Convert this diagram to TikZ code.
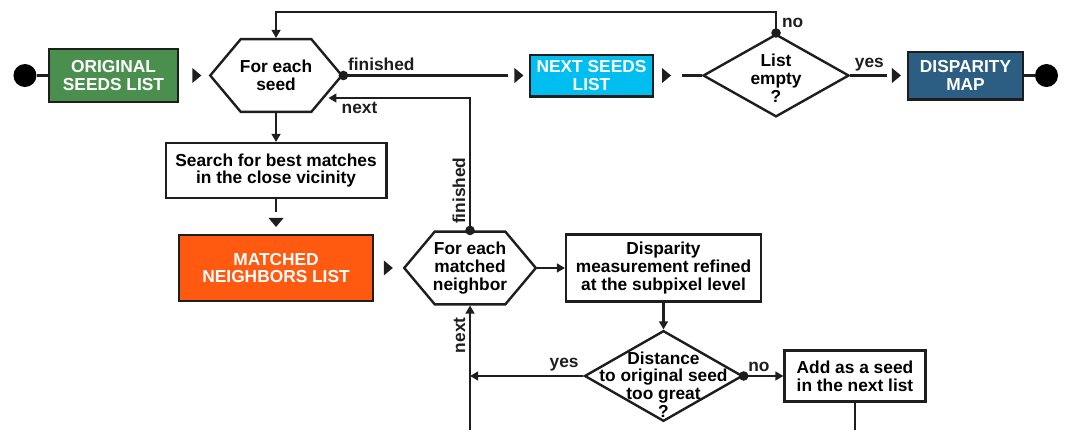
\documentclass[tikz,border=0pt]{standalone}
\usepackage{fontspec}
\setmainfont{Liberation Sans}
\definecolor{seedGreen}{HTML}{4A8F4E}
\definecolor{nextCyan}{HTML}{00BFF0}
\definecolor{mapBlue}{HTML}{2B5E82}
\definecolor{matchOrange}{HTML}{FF5A10}
\definecolor{edgeGray}{HTML}{1E1E1E}
\usetikzlibrary{positioning, arrows.meta, shapes.geometric, shapes.symbols, calc}
\tikzset{listtip/.pic={\fill[edgeGray] (-4.5,-7.5) -- (4.5,0) -- (-4.5,7.5) -- cycle;}}

\begin{document}
\begin{tikzpicture}[x=0.75pt, y=-0.75pt, on grid,
      font=\fontsize{13pt}{13.4pt}\selectfont\bfseries,
      box/.style={draw=edgeGray, line width=1.8pt, fill=white, align=center, inner sep=0pt},
      listbox/.style={box, text=white},
      hexa/.style={draw=edgeGray, line width=1.8pt, signal, signal to=east and west, signal pointer angle=100, inner sep=0pt},
      choice/.style={draw=edgeGray, line width=1.8pt, diamond, inner sep=0pt},
      terminal/.style={circle, fill=black, inner sep=0pt, minimum size=17.25pt},
      link/.style={line width=2pt, edgeGray},
      arr/.style={link, -{Triangle[length=6pt, width=6.5pt]}},
      tag/.style={inner sep=2.5pt}]
    \useasboundingbox (0,0) rectangle (1067,430);
    \coordinate (topy) at (0,12);
    \coordinate (nexty) at (0,98);
    \coordinate (boty) at (0,430);

    \node[listbox, fill=seedGreen, minimum width=96.5pt, minimum height=39.5pt] (orig) at (113.5,75.5) {ORIGINAL\\SEEDS LIST};
    \node[terminal, left=66.4pt of orig] (start) {};
    \node[hexa, minimum width=98.7pt, minimum height=54.5pt, right=121.9pt of orig,
          label={[align=center]center:{For each\\seed}}] (seed) {};
    \node[listbox, fill=nextCyan, minimum width=92pt, minimum height=31.2pt, right=236.6pt of seed] (next) {NEXT SEEDS\\LIST};
    \node[choice, minimum width=109.5pt, minimum height=62pt, right=138.4pt of next,
          label={[align=center, yshift=-2pt]center:{List\\empty\\?}}] (empty) {};
    \node[listbox, fill=mapBlue, minimum width=86pt, minimum height=35.7pt, right=142.1pt of empty] (map) {DISPARITY\\MAP};
    \node[terminal, right=60.75pt of map] (end) {};

    \node[box, minimum width=165.5pt, minimum height=41pt, below=71.25pt of seed] (search) {Search for best matches\\in the close vicinity};
    \node[listbox, fill=matchOrange, minimum width=145.2pt, minimum height=49.2pt, below=73.1pt of search] (matched) {MATCHED\\NEIGHBORS LIST};
    \node[hexa, minimum width=98.7pt, minimum height=54.5pt, right=145.5pt of matched,
          label={[align=center]center:{For each\\matched\\neighbor}}] (hexmatch) {};
    \node[box, minimum width=146pt, minimum height=50pt, right=145.1pt of hexmatch] (refine) {Disparity\\measurement refined\\at the subpixel level};
    \node[choice, minimum width=118.5pt, minimum height=68pt, below=81pt of refine,
          label={[align=center, yshift=-6.5pt]center:{Distance\\to original seed\\too great\\?}}] (dist) {};
    \node[box, minimum width=105.5pt, minimum height=38pt, right=143.6pt of dist] (add) {Add as a seed\\in the next list};

    \draw[link] (start) -- (orig);
    \draw[link] (map) -- (end);
    \pic at ($(orig.east)!0.6!(seed.west)$) {listtip};
    \draw[link] (seed.east) -- node[pos=0, above right, tag] {finished} ($(next.west)+(-21,0)$);
    \pic at ($(next.west)+(-10,0)$) {listtip};
    \pic at ($(next.east)+(12.5,0)$) {listtip};
    \draw[link] ($(next.east)+(28,0)$) -- (empty.west);
    \draw[link] (empty.east) -- node[pos=0, above right, tag] {yes} ($(map.west)+(-20,0)$);
    \pic at ($(map.west)+(-10.5,0)$) {listtip};
    \draw[arr] (empty.north) -- (empty.north |- topy) node[below right, inner sep=3.5pt] {no} -| (seed.north);

    \draw[arr] (seed.south) -- (search.north);
    \draw[link] (search.south) -- ($(search.south)+(0,13)$);
    \pic[rotate=-90] at ($(matched.north)+(0,-11.5)$) {listtip};
    \pic at ($(matched.east)!0.5!(hexmatch.west)$) {listtip};
    \draw[arr] (hexmatch.east) -- (refine.west);
    \draw[arr] (refine.south) -- (dist.north);
    \draw[arr] (dist.east) -- node[pos=0, above right, tag] {no} (add.west);
    \draw[arr] (dist.west) -- node[pos=0, above left, tag] {yes} (dist.west -| hexmatch.south);
    \draw[link] (add.south) -- (add.south |- boty);
    \draw[arr] (hexmatch.south |- boty) -- node[pos=0.76, above, sloped, tag] {next} (hexmatch.south);
    \draw[arr] (hexmatch.north) -- node[pos=0.3, above, sloped, tag] {finished} (hexmatch.north |- nexty)
      -- ($(seed.east)+(-15,22.5)$) node[anchor=north west, xshift=7pt, inner sep=2pt] {next};

    \fill[edgeGray] (seed.east) circle[radius=3.6pt];
    \fill[edgeGray] (empty.north) circle[radius=3.6pt];
    \fill[edgeGray] (hexmatch.north) circle[radius=3.6pt];
    \fill[edgeGray] (dist.east) circle[radius=3.6pt];
  \end{tikzpicture}
\end{document}
